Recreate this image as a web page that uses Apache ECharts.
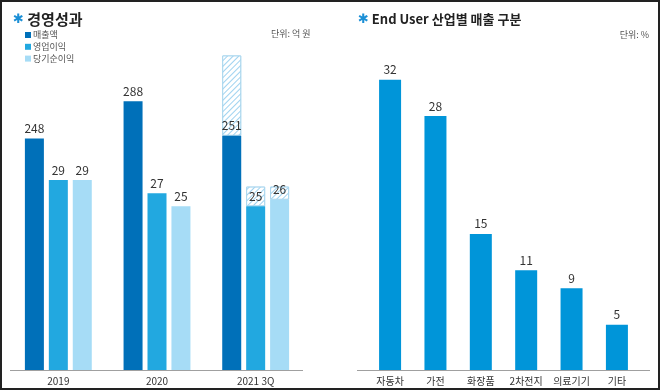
<!DOCTYPE html>
<html>
<head>
<meta charset="utf-8">
<script src="https://cdn.jsdelivr.net/npm/echarts@6/dist/echarts.min.js"></script>
<style>
html,body{margin:0;padding:0;background:#fff;}
#main{width:661px;height:391px;}
</style>
</head>
<body>
<div id="main"></div>
<script>
// ---- data ----
var years = ['2019', '2020', '2021 3Q'];
var revenue = [248, 288, 251];
var operatingProfit = [29, 27, 25];
var netProfit = [29, 25, 26];
// hatched (estimated) totals for 2021
var revenueHatchTop = [null, null, 337];
var operatingHatchTop = [null, null, 28];
var netHatchTop = [null, null, 28];

var industries = ['자동차', '가전', '화장품', '2차전지', '의료기기', '기타'];
var industryShare = [32, 28, 15, 11, 9, 5];

var legendNames = ['매출액', '영업이익', '당기순이익'];

// ---- helpers ----
function diff(tops, base) {
  return tops.map(function (t, i) { return t == null ? '-' : +(t - base[i]).toFixed(2); });
}
var hatchStyle = {
  color: '#ffffff', borderColor: '#a9d6ee', borderWidth: 1,
  decal: { symbol: 'rect', color: '#9ed2f0', backgroundColor: '#ffffff',
           dashArrayX: [1, 0], dashArrayY: [1, 2.5], rotation: -Math.PI / 4, symbolSize: 1 }
};
var FONT = '"Noto Sans CJK KR", "Noto Sans", sans-serif';
var C1 = '#0070b9', C2 = '#22a8e0', C3 = '#a6dcf6', CR = '#0095d9';

var lbl = { show: true, position: 'top', distance: 4, color: '#333', fontSize: 12, fontFamily: FONT };

var chart = echarts.init(document.getElementById('main'), null, { renderer: 'canvas' });
chart.setOption({
  animation: false,
  backgroundColor: '#fff',
  textStyle: { fontFamily: FONT },
  title: [
    { text: '{i|✱} 경영성과', left: 8, top: 7,
      textStyle: { fontSize: 15, fontWeight: 'bold', color: '#222', fontFamily: FONT,
        rich: { i: { color: '#1b8fd6', fontSize: 13, fontWeight: 'bold', fontFamily: 'DejaVu Sans' } } } },
    { text: '단위: 억 원', left: 271, top: 29, padding: 0, textStyle: { fontSize: 9, fontWeight: 'normal', color: '#555', fontFamily: FONT } },
    { text: '{i|✱} End User 산업별 매출 구분', left: 353, top: 8,
      textStyle: { fontSize: 13, fontWeight: 'bold', color: '#222', fontFamily: FONT,
        rich: { i: { color: '#1b8fd6', fontSize: 13, fontWeight: 'bold', fontFamily: 'DejaVu Sans' } } } },
    { text: '단위: %', right: 12, top: 30, padding: 0, textStyle: { fontSize: 9, fontWeight: 'normal', color: '#555', fontFamily: FONT } }
  ],
  legend: {
    data: legendNames, orient: 'vertical', left: 25, top: 30.5, padding: 0,
    icon: 'rect', itemWidth: 6, itemHeight: 6, itemGap: 2.8,
    textStyle: { fontSize: 9, lineHeight: 9, color: '#555', fontFamily: FONT, padding: [0, 0, 0, -3] }
  },
  grid: [
    { left: 9, right: 356, top: 34, bottom: 21 },
    { left: 367.4, right: 21.4, top: 52.5, bottom: 21 }
  ],
  xAxis: [
    { type: 'category', data: years, gridIndex: 0,
      axisLine: { show: false }, axisTick: { show: false },
      axisLabel: { color: '#333', fontSize: 10, margin: 6, interval: 0, fontFamily: FONT } },
    { type: 'category', data: industries, gridIndex: 1,
      axisLine: { show: false }, axisTick: { show: false },
      axisLabel: { color: '#333', fontSize: 10, margin: 6, interval: 0, fontFamily: FONT } }
  ],
  yAxis: [
    { type: 'value', gridIndex: 0, min: 0, max: 360, show: false, splitLine: { show: false } },
    { type: 'value', gridIndex: 0, min: 0, max: 51.3, show: false, splitLine: { show: false } },
    { type: 'value', gridIndex: 1, min: 0, max: 35, show: false, splitLine: { show: false } }
  ],
  graphic: [
    { type: 'line', shape: { x1: 10, y1: 370.5, x2: 303, y2: 370.5 }, style: { stroke: '#a0a0a0', lineWidth: 1 } },
    { type: 'line', shape: { x1: 357, y1: 370.5, x2: 650, y2: 370.5 }, style: { stroke: '#a0a0a0', lineWidth: 1 } },
    { type: 'rect', shape: { x: 1, y: 1, width: 658, height: 388 }, style: { fill: 'none', stroke: '#222', lineWidth: 2 }, z: 100 }
  ],
  series: [
    { name: '매출액', type: 'bar', xAxisIndex: 0, yAxisIndex: 0, stack: 'rev', data: revenue,
      barWidth: 19, barGap: '26%', itemStyle: { color: C1 }, label: lbl, z: 3 },
    { name: 'rev-est', type: 'bar', xAxisIndex: 0, yAxisIndex: 0, stack: 'rev', data: diff(revenueHatchTop, revenue),
      barWidth: 19, itemStyle: hatchStyle, z: 1 },
    { name: '영업이익', type: 'bar', xAxisIndex: 0, yAxisIndex: 1, stack: 'op', data: operatingProfit,
      barWidth: 19, barGap: '26%', itemStyle: { color: C2 }, label: lbl, z: 3 },
    { name: 'op-est', type: 'bar', xAxisIndex: 0, yAxisIndex: 1, stack: 'op', data: diff(operatingHatchTop, operatingProfit),
      barWidth: 19, itemStyle: hatchStyle, z: 1 },
    { name: '당기순이익', type: 'bar', xAxisIndex: 0, yAxisIndex: 1, stack: 'net', data: netProfit,
      barWidth: 19, barGap: '26%', itemStyle: { color: C3 }, label: lbl, z: 3 },
    { name: 'net-est', type: 'bar', xAxisIndex: 0, yAxisIndex: 1, stack: 'net', data: diff(netHatchTop, netProfit),
      barWidth: 19, itemStyle: hatchStyle, z: 1 },
    { name: '산업별', type: 'bar', xAxisIndex: 1, yAxisIndex: 2, data: industryShare,
      barWidth: 22, itemStyle: { color: CR }, label: lbl }
  ]
});
</script>
</body>
</html>
